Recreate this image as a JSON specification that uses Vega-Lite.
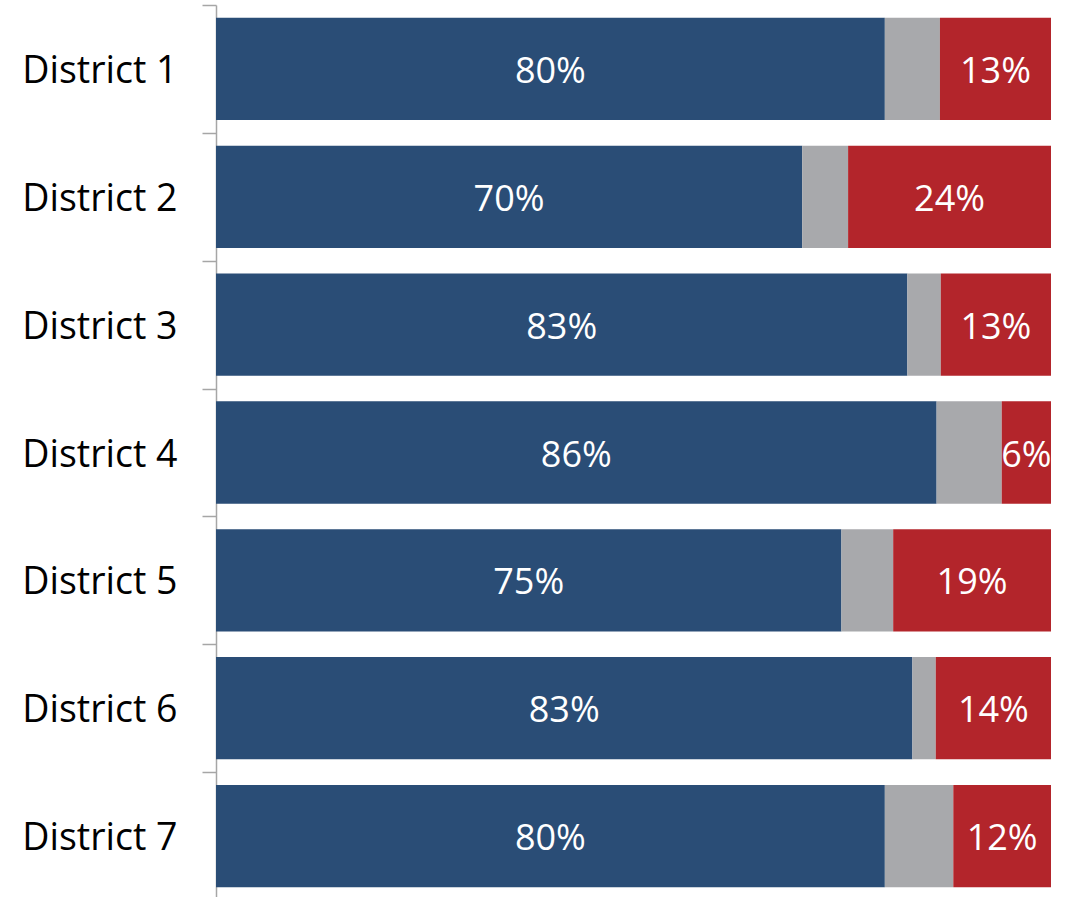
{
  "$schema": "https://vega.github.io/schema/vega-lite/v6.json",
  "autosize": "none",
  "width": 835,
  "height": 895,
  "padding": {"left": 216, "top": 5, "right": 15, "bottom": 0},
  "config": {"view": {"stroke": null}},
  "data": {
    "values": [
      {"district": "District 1", "category": "Favorable", "order": 1, "value": 0.801},
      {"district": "District 1", "category": "Neutral", "order": 2, "value": 0.066},
      {"district": "District 1", "category": "Unfavorable", "order": 3, "value": 0.133},
      {"district": "District 2", "category": "Favorable", "order": 1, "value": 0.702},
      {"district": "District 2", "category": "Neutral", "order": 2, "value": 0.055},
      {"district": "District 2", "category": "Unfavorable", "order": 3, "value": 0.243},
      {"district": "District 3", "category": "Favorable", "order": 1, "value": 0.828},
      {"district": "District 3", "category": "Neutral", "order": 2, "value": 0.040},
      {"district": "District 3", "category": "Unfavorable", "order": 3, "value": 0.132},
      {"district": "District 4", "category": "Favorable", "order": 1, "value": 0.863},
      {"district": "District 4", "category": "Neutral", "order": 2, "value": 0.078},
      {"district": "District 4", "category": "Unfavorable", "order": 3, "value": 0.059},
      {"district": "District 5", "category": "Favorable", "order": 1, "value": 0.749},
      {"district": "District 5", "category": "Neutral", "order": 2, "value": 0.062},
      {"district": "District 5", "category": "Unfavorable", "order": 3, "value": 0.189},
      {"district": "District 6", "category": "Favorable", "order": 1, "value": 0.834},
      {"district": "District 6", "category": "Neutral", "order": 2, "value": 0.028},
      {"district": "District 6", "category": "Unfavorable", "order": 3, "value": 0.138},
      {"district": "District 7", "category": "Favorable", "order": 1, "value": 0.801},
      {"district": "District 7", "category": "Neutral", "order": 2, "value": 0.082},
      {"district": "District 7", "category": "Unfavorable", "order": 3, "value": 0.117}
    ]
  },
  "encoding": {
    "y": {
      "field": "district",
      "type": "nominal",
      "sort": null,
      "scale": {"paddingInner": 0.2, "paddingOuter": 0.1},
      "axis": {
        "title": null,
        "labelFont": "Open Sans",
        "labelFontSize": 37.5,
        "labelColor": "#000000",
        "labelPadding": 25,
        "domainColor": "#A6A6A6",
        "domainWidth": 1.5,
        "tickColor": "#A6A6A6",
        "tickWidth": 1.5,
        "tickSize": 14,
        "tickOffset": -63.9,
        "labelOffset": 66.5
      }
    }
  },
  "layer": [
    {
      "mark": {"type": "bar"},
      "encoding": {
        "x": {
          "field": "value",
          "type": "quantitative",
          "stack": "zero",
          "scale": {"domain": [0, 1], "nice": false},
          "axis": null
        },
        "color": {
          "field": "category",
          "type": "nominal",
          "scale": {
            "domain": ["Favorable", "Neutral", "Unfavorable"],
            "range": ["#2A4D76", "#A8A9AC", "#B3252B"]
          },
          "legend": null
        },
        "order": {"field": "order", "type": "quantitative"}
      }
    },
    {
      "transform": [
        {"stack": "value", "groupby": ["district"], "sort": [{"field": "order"}], "as": ["v0", "v1"]},
        {"calculate": "(datum.v0 + datum.v1) / 2", "as": "mid"},
        {"filter": "datum.category != 'Neutral'"}
      ],
      "mark": {"type": "text", "color": "#FFFFFF", "font": "Open Sans", "fontSize": 36, "baseline": "middle", "align": "center", "dy": 3},
      "encoding": {
        "x": {"field": "mid", "type": "quantitative"},
        "text": {"field": "value", "type": "quantitative", "format": ".0%"}
      }
    }
  ]
}
